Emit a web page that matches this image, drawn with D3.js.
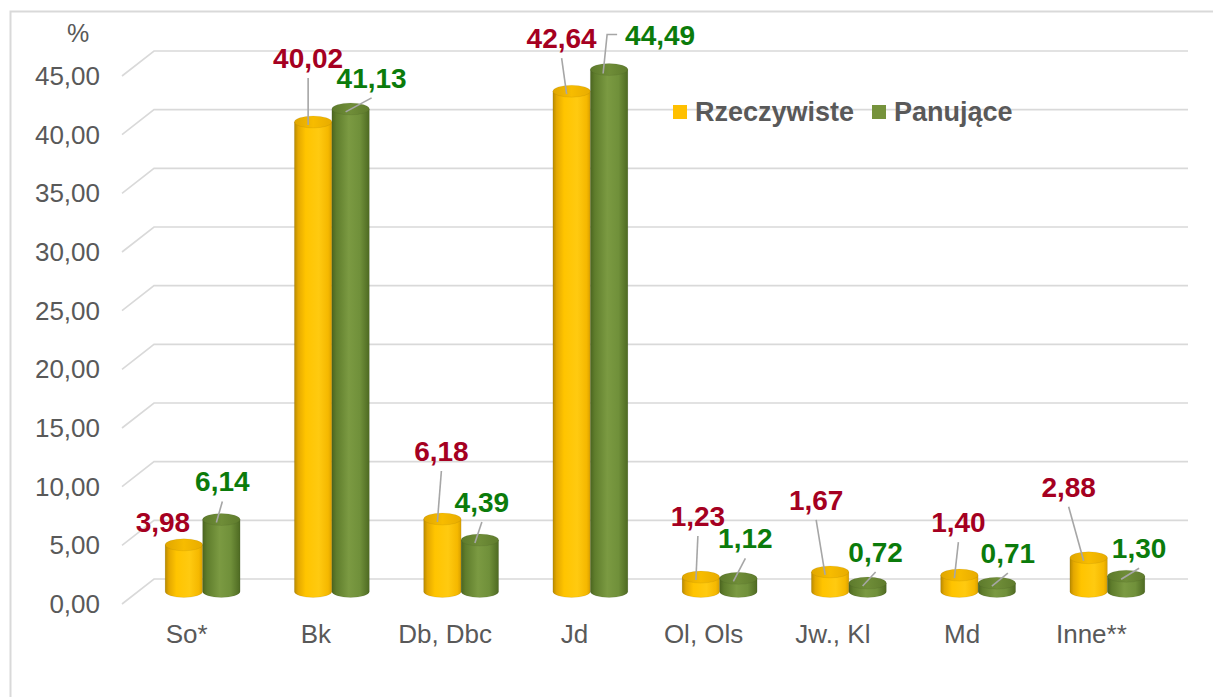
<!DOCTYPE html>
<html>
<head>
<meta charset="utf-8">
<script src="https://cdn.jsdelivr.net/npm/d3@7"></script>
<style>
    html, body { margin: 0; padding: 0; background: #fff; }
    svg { display: block; font-family: "Liberation Sans", Arial, sans-serif; }
</style>
</head>
<body>
<svg id="chart" width="1213" height="697"></svg>
<script>
// data
const categories = ["So*", "Bk", "Db, Dbc", "Jd", "Ol, Ols", "Jw., Kl", "Md", "Inne**"];
const seriesNames = ["Rzeczywiste", "Panujące"];
const rzeczywiste = [3.98, 40.02, 6.18, 42.64, 1.23, 1.67, 1.40, 2.88];
const panujace = [6.14, 41.13, 4.39, 44.49, 1.12, 0.72, 0.71, 1.30];
const yTicks = [0, 5, 10, 15, 20, 25, 30, 35, 40, 45];

// label placement relative to bar top (layout, not data)
const labelOffsetR = [[-21, -23], [-5, -64], [-1, -68], [-10, -53], [-3, -61], [-14, -72], [-1, -53], [-20, -71]];
const labelOffsetP = [[1, -38], [21, -31], [2, -38], [51, -34], [7, -40], [8, -31], [11, -30], [13, -28]];
const leaderR = ["none", "line", "line", "line", "line", "line", "line", "line"];
const leaderP = ["line", "line", "line", "elbow", "line", "line", "line", "line"];

const svg = d3.select("#chart");
const plDec = d3.formatLocale({ decimal: ",", thousands: " ", grouping: [3], currency: ["", " zł"] }).format(".2f");

// geometry of the 3D plot (back wall + depth)
const backLeft = 154, backRight = 1188;
const depthX = 32, depthY = 25;
const y = d3.scaleLinear().domain([0, 45]).range([579, 51]);
const yMid = v => y(v) + depthY / 2;

const x0 = d3.scaleBand()
    .domain(categories)
    .range([backLeft - depthX / 2, backRight - depthX / 2])
    .paddingInner(0.42)
    .paddingOuter(0.21);
const x1 = d3.scaleBand().domain(seriesNames).range([0, x0.bandwidth()]);

const textColor = "#595959";
const gridColor = "#d9d9d9";

// outer frame
svg.append("rect")
    .attr("x", 10.5).attr("y", 11.5)
    .attr("width", 1300).attr("height", 800)
    .attr("fill", "none")
    .attr("stroke", gridColor)
    .attr("stroke-width", 2);

// gradients
const defs = svg.append("defs");
function hGrad(id, stops) {
    const g = defs.append("linearGradient").attr("id", id)
        .attr("x1", "0%").attr("x2", "100%").attr("y1", "0%").attr("y2", "0%");
    stops.forEach(s => g.append("stop").attr("offset", s[0]).attr("stop-color", s[1]));
}
hGrad("gY", [["0%", "#b88a00"], ["10%", "#e4a800"], ["30%", "#ffc400"], ["65%", "#ffca10"], ["90%", "#f5b800"], ["100%", "#d9a000"]]);
hGrad("gYtop", [["0%", "#e0a600"], ["50%", "#f7bc00"], ["100%", "#e8ac00"]]);
hGrad("gG", [["0%", "#4b6520"], ["12%", "#5f7d2c"], ["45%", "#7b9a42"], ["75%", "#70903a"], ["100%", "#4e6a22"]]);
hGrad("gGtop", [["0%", "#5d7a2c"], ["50%", "#6f8d38"], ["100%", "#5f7c2d"]]);

// grid lines (back wall + left depth edge)
const grid = svg.append("g");
yTicks.forEach(t => {
    grid.append("polyline")
        .attr("points", [[backLeft - depthX, y(t) + depthY], [backLeft, y(t)], [backRight, y(t)]].join(" "))
        .attr("fill", "none")
        .attr("stroke", gridColor)
        .attr("stroke-width", 1.6);
});

// y tick labels
svg.append("g").selectAll("text")
    .data(yTicks)
    .join("text")
    .attr("x", 100)
    .attr("y", d => y(d) + depthY + 9)
    .attr("text-anchor", "end")
    .attr("font-size", 26)
    .attr("fill", textColor)
    .text(d => plDec(d));

svg.append("text")
    .attr("x", 78).attr("y", 42)
    .attr("text-anchor", "middle")
    .attr("font-size", 25)
    .attr("fill", textColor)
    .text("%");

// category labels (front edge)
svg.append("g").selectAll("text")
    .data(categories)
    .join("text")
    .attr("x", d => x0(d) + x0.bandwidth() / 2 - depthX / 2)
    .attr("y", 643)
    .attr("text-anchor", "middle")
    .attr("font-size", 26)
    .attr("fill", textColor)
    .text(d => d);

// cylinders
const ry = 6;
const series = [
    { name: seriesNames[0], values: rzeczywiste, body: "url(#gY)", top: "url(#gYtop)", label: "#a50021", offs: labelOffsetR, leader: leaderR },
    { name: seriesNames[1], values: panujace, body: "url(#gG)", top: "url(#gGtop)", label: "#0b7b0b", offs: labelOffsetP, leader: leaderP }
];

const bars = svg.append("g");
series.forEach(s => {
    const g = bars.append("g");
    const rows = categories.map((c, i) => ({ c, i, v: s.values[i] }));
    const bx = d => x0(d.c) + x1(s.name);
    const bw = x1.bandwidth();
    g.selectAll("path.body")
        .data(rows)
        .join("path")
        .attr("class", "body")
        .attr("d", d => {
            const l = bx(d), r = l + bw, top = yMid(d.v), base = yMid(0);
            return `M${l},${top} L${l},${base} A${bw / 2},${ry} 0 0 0 ${r},${base} L${r},${top} Z`;
        })
        .attr("fill", s.body)
        .attr("stroke", "rgba(0,0,0,0.12)")
        .attr("stroke-width", 0.6);
    g.selectAll("ellipse")
        .data(rows)
        .join("ellipse")
        .attr("cx", d => bx(d) + bw / 2)
        .attr("cy", d => yMid(d.v))
        .attr("rx", bw / 2)
        .attr("ry", ry)
        .attr("fill", s.top)
        .attr("stroke", "rgba(0,0,0,0.10)")
        .attr("stroke-width", 0.6);
});

// data labels with leader lines
const labels = svg.append("g");
series.forEach(s => {
    categories.forEach((c, i) => {
        const cx = x0(c) + x1(s.name) + x1.bandwidth() / 2;
        const top = yMid(s.values[i]);
        const lx = cx + s.offs[i][0];
        const ly = top + s.offs[i][1];
        const type = s.leader[i];
        if (type === "line") {
            labels.append("line")
                .attr("x1", lx).attr("y1", ly + 20)
                .attr("x2", cx - 5).attr("y2", top + 3)
                .attr("stroke", "#a6a6a6")
                .attr("stroke-width", 1.6);
        } else if (type === "elbow") {
            labels.append("polyline")
                .attr("points", [[lx - 43, ly - 1], [lx - 53, ly - 1], [cx - 6, top + 4]].join(" "))
                .attr("fill", "none")
                .attr("stroke", "#a6a6a6")
                .attr("stroke-width", 1.6);
        }
        labels.append("text")
            .attr("x", lx)
            .attr("y", ly + 10)
            .attr("text-anchor", "middle")
            .attr("font-size", 28)
            .attr("font-weight", "bold")
            .attr("fill", s.label)
            .text(plDec(s.values[i]));
    });
});

// legend
const legend = svg.append("g");
const legendX = [673, 872];
series.forEach((s, i) => {
    legend.append("rect")
        .attr("x", legendX[i]).attr("y", 105)
        .attr("width", 14).attr("height", 14)
        .attr("fill", i === 0 ? "#ffc000" : "#76933c");
    legend.append("text")
        .attr("x", legendX[i] + 22).attr("y", 121)
        .attr("font-size", 27)
        .attr("font-weight", "bold")
        .attr("fill", textColor)
        .text(s.name);
});
</script>
</body>
</html>
